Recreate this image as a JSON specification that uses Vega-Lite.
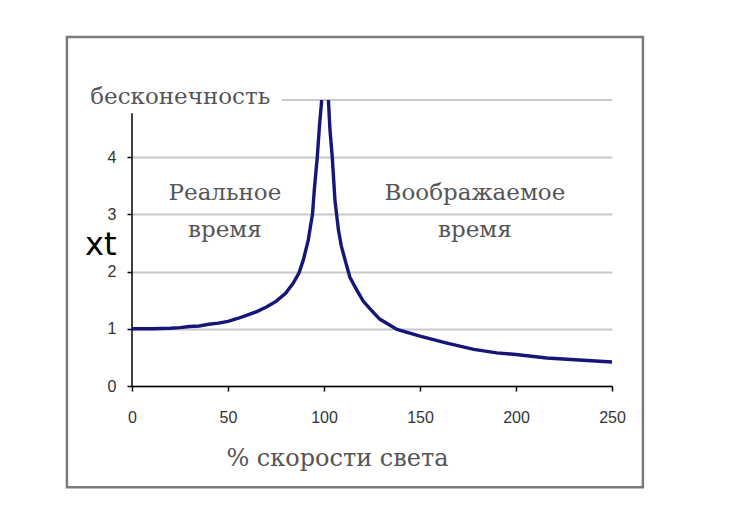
{
  "$schema": "https://vega.github.io/schema/vega-lite/v6.json",
  "width": 480,
  "height": 286,
  "autosize": "none",
  "padding": {"left": 132, "top": 100, "right": 120, "bottom": 142},
  "background": "white",
  "config": {"view": {"stroke": null}},
  "data": {"values": [{}]},
  "datasets": {
    "curve": [
      {"v": 0, "t": 1.0, "b": "real"},
      {"v": 10, "t": 1.0, "b": "real"},
      {"v": 20, "t": 1.01, "b": "real"},
      {"v": 25, "t": 1.02, "b": "real"},
      {"v": 30, "t": 1.04, "b": "real"},
      {"v": 35, "t": 1.05, "b": "real"},
      {"v": 40, "t": 1.08, "b": "real"},
      {"v": 45, "t": 1.1, "b": "real"},
      {"v": 50, "t": 1.13, "b": "real"},
      {"v": 55, "t": 1.18, "b": "real"},
      {"v": 60, "t": 1.24, "b": "real"},
      {"v": 65, "t": 1.3, "b": "real"},
      {"v": 70, "t": 1.38, "b": "real"},
      {"v": 75, "t": 1.48, "b": "real"},
      {"v": 80, "t": 1.62, "b": "real"},
      {"v": 84, "t": 1.8, "b": "real"},
      {"v": 87, "t": 1.98, "b": "real"},
      {"v": 89.2, "t": 2.2, "b": "real"},
      {"v": 91.8, "t": 2.55, "b": "real"},
      {"v": 93, "t": 2.8, "b": "real"},
      {"v": 94, "t": 3.0, "b": "real"},
      {"v": 95, "t": 3.45, "b": "real"},
      {"v": 96.5, "t": 4.0, "b": "real"},
      {"v": 97.6, "t": 4.53, "b": "real"},
      {"v": 98.8, "t": 5.0, "b": "real"},
      {"v": 102.3, "t": 5.0, "b": "imag"},
      {"v": 103.1, "t": 4.48, "b": "imag"},
      {"v": 104.3, "t": 4.0, "b": "imag"},
      {"v": 105.7, "t": 3.25, "b": "imag"},
      {"v": 107.5, "t": 2.73, "b": "imag"},
      {"v": 109, "t": 2.45, "b": "imag"},
      {"v": 111, "t": 2.2, "b": "imag"},
      {"v": 113.5, "t": 1.9, "b": "imag"},
      {"v": 117, "t": 1.68, "b": "imag"},
      {"v": 120.5, "t": 1.48, "b": "imag"},
      {"v": 124, "t": 1.35, "b": "imag"},
      {"v": 129, "t": 1.17, "b": "imag"},
      {"v": 138, "t": 0.99, "b": "imag"},
      {"v": 150, "t": 0.87, "b": "imag"},
      {"v": 164, "t": 0.75, "b": "imag"},
      {"v": 178, "t": 0.64, "b": "imag"},
      {"v": 190, "t": 0.58, "b": "imag"},
      {"v": 200, "t": 0.55, "b": "imag"},
      {"v": 216, "t": 0.49, "b": "imag"},
      {"v": 235, "t": 0.45, "b": "imag"},
      {"v": 250, "t": 0.42, "b": "imag"}
    ],
    "notes": [
      {"v": 48.4, "t": 3.37, "label": "Реальное"},
      {"v": 48.4, "t": 2.73, "label": "время"},
      {"v": 178.6, "t": 3.37, "label": "Воображаемое"},
      {"v": 178.6, "t": 2.73, "label": "время"}
    ]
  },
  "layer": [
    {
      "mark": {"type": "rect", "fill": null, "stroke": "#7a7a7a", "strokeWidth": 2.5, "clip": false},
      "encoding": {
        "x": {"datum": -33.9, "type": "quantitative", "scale": {"domain": [0, 250], "nice": false}},
        "x2": {"datum": 266.1},
        "y": {"datum": 6.1, "type": "quantitative", "scale": {"domain": [0, 5], "nice": false}},
        "y2": {"datum": -1.77}
      }
    },
    {
      "mark": {"type": "rule", "color": "#c8c8c8", "strokeWidth": 2},
      "encoding": {
        "x": {"datum": 78, "type": "quantitative"},
        "x2": {"datum": 250},
        "y": {"datum": 5, "type": "quantitative"}
      }
    },
    {
      "mark": {"type": "rule", "color": "black", "strokeWidth": 1.5},
      "encoding": {
        "x": {"datum": 0, "type": "quantitative"},
        "y": {"datum": 0, "type": "quantitative"},
        "y2": {"datum": 4.77}
      }
    },
    {
      "data": {"name": "curve"},
      "mark": {"type": "line", "color": "#16167a", "strokeWidth": 3.4, "clip": true},
      "encoding": {
        "x": {
          "field": "v", "type": "quantitative",
          "axis": {
            "values": [0, 50, 100, 150, 200, 250],
            "format": "d",
            "labelFlush": false,
            "title": "% скорости света",
            "titleFont": "DejaVu Serif", "titleFontSize": 24, "titleFontWeight": "normal",
            "titleColor": "#555555", "titleX": 205, "titleY": 72, "titleBaseline": "middle",
            "labelFont": "Liberation Sans", "labelFontSize": 16, "labelColor": "#333333",
            "labelPadding": 18, "tickSize": 5, "tickColor": "black", "tickWidth": 1.5,
            "domainColor": "black", "domainWidth": 1.5, "grid": false
          }
        },
        "y": {
          "field": "t", "type": "quantitative",
          "axis": {
            "values": [0, 1, 2, 3, 4],
            "format": "d",
            "title": "xt",
            "titleFont": "DejaVu Sans", "titleFontSize": 32, "titleFontWeight": "normal",
            "titleColor": "black", "titleAngle": 0, "titleX": -16, "titleY": 144,
            "titleAlign": "right", "titleBaseline": "middle",
            "labelFont": "Liberation Sans", "labelFontSize": 16, "labelColor": "#333333",
            "labelPadding": 11, "tickSize": 5, "tickColor": "black", "tickWidth": 1.5,
            "domain": false, "grid": true, "gridColor": "#c8c8c8", "gridWidth": 2
          }
        },
        "detail": {"field": "b", "type": "nominal"}
      }
    },
    {
      "data": {"name": "notes"},
      "mark": {"type": "text", "font": "DejaVu Serif", "fontSize": 23, "color": "#555555", "align": "center", "baseline": "middle"},
      "encoding": {
        "x": {"field": "v", "type": "quantitative"},
        "y": {"field": "t", "type": "quantitative"},
        "text": {"field": "label"}
      }
    },
    {
      "mark": {"type": "text", "font": "DejaVu Serif", "fontSize": 23, "color": "#555555", "align": "right", "baseline": "middle"},
      "encoding": {
        "x": {"datum": 72, "type": "quantitative"},
        "y": {"datum": 5.05, "type": "quantitative"},
        "text": {"value": "бесконечность"}
      }
    }
  ]
}
